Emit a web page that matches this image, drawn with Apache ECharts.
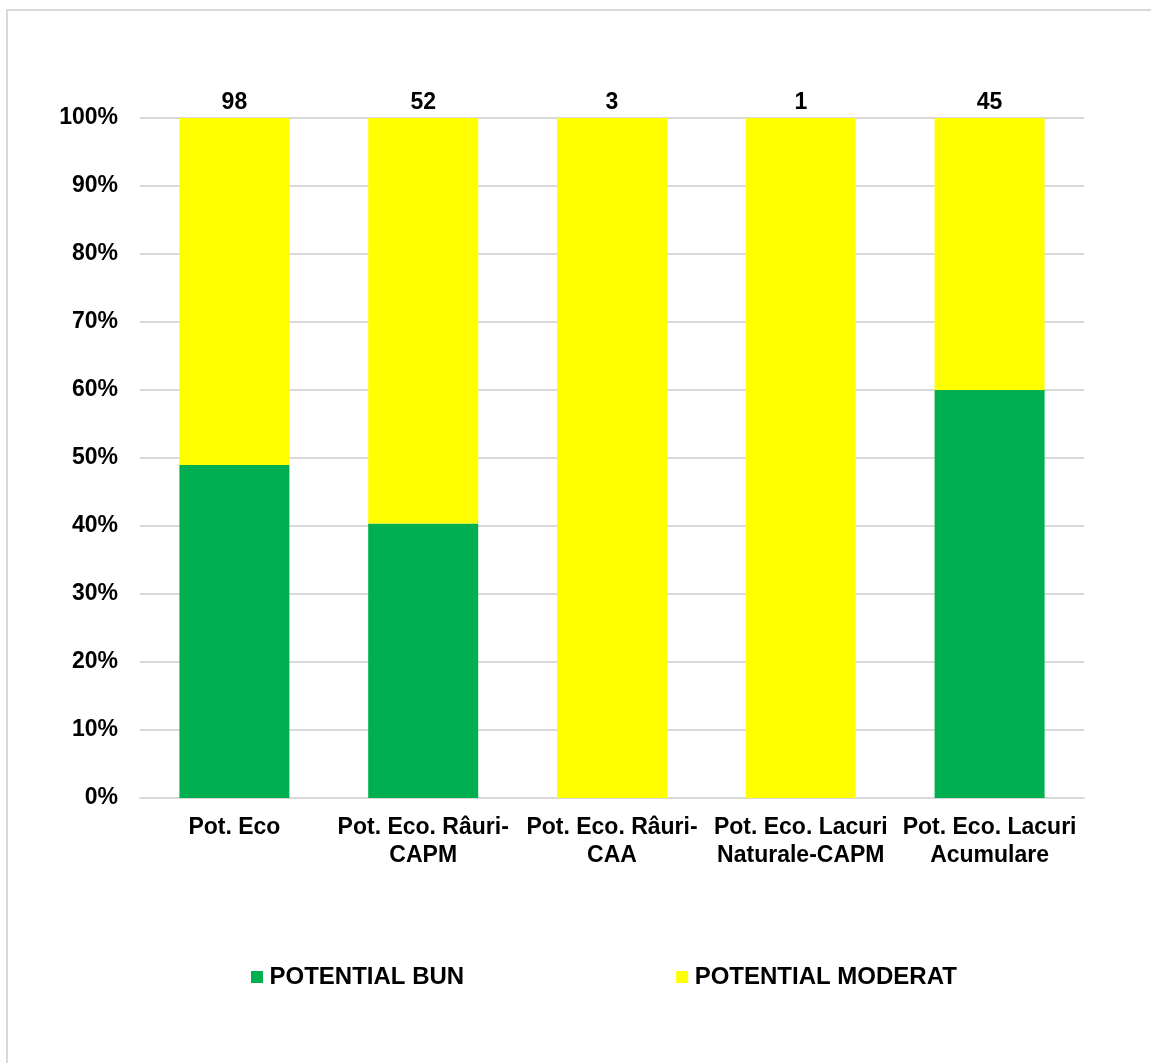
<!DOCTYPE html>
<html>
<head>
<meta charset="utf-8">
<script src="https://cdn.jsdelivr.net/npm/echarts@6/dist/echarts.min.js"></script>
<style>
html,body{margin:0;padding:0;background:#fff;}
#chart{width:1151px;height:1063px;}
</style>
</head>
<body>
<div id="chart"></div>
<script>
const categories = ['Pot. Eco', 'Pot. Eco. Râuri-\nCAPM', 'Pot. Eco. Râuri-\nCAA', 'Pot. Eco. Lacuri\nNaturale-CAPM', 'Pot. Eco. Lacuri\nAcumulare'];
const seriesNames = ['POTENTIAL BUN', 'POTENTIAL MODERAT'];
const bunCounts = [48, 21, 0, 0, 27];
const moderatCounts = [50, 31, 3, 1, 18];
const totals = bunCounts.map((v, i) => v + moderatCounts[i]);
const bunPct = bunCounts.map((v, i) => v / totals[i] * 100);
const moderatPct = moderatCounts.map((v, i) => v / totals[i] * 100);

const FONT = '"Liberation Sans", Arial, sans-serif';
const FS = 23;
const chart = echarts.init(document.getElementById('chart'));
chart.setOption({
  animation: false,
  backgroundColor: '#fff',
  textStyle: { fontFamily: FONT },
  graphic: [{
    type: 'rect',
    shape: { x: 7, y: 10, width: 1300, height: 1200 },
    style: { fill: 'none', stroke: '#d9d9d9', lineWidth: 2 },
    silent: true
  }],
  grid: { left: 140, right: 67, top: 118, bottom: 265 },
  legend: {
    data: seriesNames,
    left: 246,
    top: 960,
    icon: 'rect',
    itemWidth: 12,
    itemHeight: 12,
    itemGap: 212,
    textStyle: { fontFamily: FONT, fontWeight: 'bold', fontSize: 24, color: '#000', padding: [0, 0, 0, 1.5] }
  },
  xAxis: {
    type: 'category',
    data: categories,
    axisLine: { lineStyle: { color: '#d9d9d9', width: 2 } },
    axisTick: { show: false },
    axisLabel: { fontFamily: FONT, fontWeight: 'bold', fontSize: FS, color: '#000', margin: 16, lineHeight: 28, interval: 0 }
  },
  yAxis: {
    type: 'value',
    min: 0,
    max: 100,
    interval: 10,
    axisLine: { show: false },
    axisTick: { show: false },
    splitLine: { lineStyle: { color: '#d9d9d9', width: 2 } },
    axisLabel: { formatter: '{value}%', fontFamily: FONT, fontWeight: 'bold', fontSize: FS, color: '#000', margin: 22 }
  },
  series: [
    {
      name: seriesNames[0],
      type: 'bar',
      stack: 'total',
      data: bunPct,
      barWidth: 110,
      itemStyle: { color: '#00B050' }
    },
    {
      name: seriesNames[1],
      type: 'bar',
      stack: 'total',
      data: moderatPct,
      barWidth: 110,
      itemStyle: { color: '#FFFF00' },
      label: {
        show: true,
        position: 'top',
        distance: 4,
        formatter: p => String(totals[p.dataIndex]),
        fontFamily: FONT,
        fontWeight: 'bold',
        fontSize: FS,
        color: '#000'
      }
    }
  ]
});
</script>
</body>
</html>
